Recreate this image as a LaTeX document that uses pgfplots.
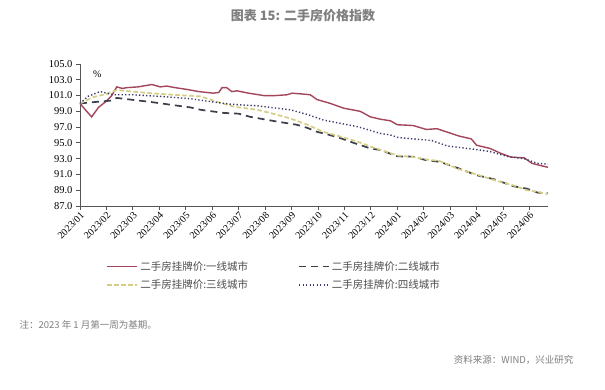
\documentclass[border=0pt]{standalone}
\usepackage{fontspec}
\setmainfont{Liberation Serif}
\newfontfamily\cjk{Noto Sans CJK SC}
\usepackage{pgfplots}
\pgfplotsset{compat=1.18}
\definecolor{cA}{HTML}{A3465C}
\definecolor{cB}{HTML}{3C3F4A}
\definecolor{cC}{HTML}{D6CD84}
\definecolor{cD}{HTML}{3A3A6A}
\definecolor{axc}{HTML}{555555}
\definecolor{txt}{HTML}{7F7F7F}
\pgfplotstableread{
x y
0 100.0
0.2 99.2
0.44 98.3
0.7 99.5
1.0 100.3
1.2 101.0
1.39 102.1
1.6 101.9
1.77 102.0
2.2 102.1
2.72 102.4
3.03 102.1
3.28 102.2
3.6 102.0
4.0 101.8
4.5 101.5
5.05 101.3
5.25 101.4
5.37 102.0
5.55 102.0
5.74 101.5
5.93 101.6
6.38 101.3
6.95 101.0
7.4 101.0
7.83 101.1
8.02 101.3
8.4 101.2
8.71 101.1
8.96 100.5
9.47 100.0
9.97 99.4
10.6 99.0
10.98 98.3
11.36 98.0
11.74 97.8
12.0 97.3
12.6 97.2
13.1 96.7
13.5 96.8
14.3 95.9
14.8 95.5
15.0 94.7
15.5 94.3
15.9 93.7
16.3 93.2
16.8 93.1
17.1 92.4
17.7 91.9
}\tierA
\pgfplotstableread{
x y
0 100.0
0.63 100.2
1.14 100.35
1.39 100.7
2.0 100.45
2.65 100.2
3.5 99.8
4.17 99.5
4.55 99.2
5.43 98.8
6.0 98.7
6.44 98.3
7.45 97.7
8.2 97.3
8.6 96.9
8.96 96.4
9.34 96.1
9.85 95.6
10.35 95.0
10.98 94.3
11.36 94.1
12.0 93.3
12.6 93.25
13.1 92.8
13.6 92.6
14.3 91.8
15.0 90.9
15.65 90.4
16.4 89.5
16.9 89.2
17.3 88.7
17.7 88.6
}\tierB
\pgfplotstableread{
x y
0 100.0
0.5 100.8
1.0 101.2
1.39 101.7
2.0 101.5
2.65 101.3
3.5 101.1
4.55 100.9
5.2 100.2
5.8 99.6
6.7 99.2
7.3 98.7
7.95 98.1
8.6 97.3
9.2 96.4
9.85 95.8
10.5 95.15
11.1 94.4
11.74 93.7
12.0 93.4
12.6 93.2
13.1 92.9
13.6 92.7
14.3 91.7
15.0 91.0
15.65 90.3
16.4 89.6
16.9 89.0
17.3 88.8
17.7 88.5
}\tierC
\pgfplotstableread{
x y
0 100.0
0.3 100.9
0.76 101.5
1.26 101.1
2.0 101.1
3.0 100.9
4.17 100.6
5.0 100.2
5.7 99.9
6.7 99.7
7.95 99.2
8.6 98.6
9.2 97.9
10.5 97.05
11.36 96.2
11.74 96.0
12.0 95.7
12.6 95.5
13.3 95.3
13.9 94.6
14.9 94.2
15.5 93.9
16.2 93.25
16.8 93.0
17.3 92.4
17.7 92.3
}\tierD
\begin{document}
\begin{tikzpicture}[x=1pt,y=1pt]
\useasboundingbox (0,0) rectangle (605,390);
\fill[white] (0,0) rectangle (605,390);
\node[text=txt] at (303,374) {\cjk\bfseries\fontsize{13}{15}\selectfont 图表 15: 二手房价格指数};
\begin{axis}[
  at={(80pt,184pt)}, anchor=south west,
  scale only axis, width=468pt, height=142pt,
  xmin=0, xmax=17.7, ymin=87, ymax=105,
  axis x line*=bottom, axis y line*=left,
  axis line style={axc, line width=0.8pt, -},
  tick style={axc, line width=0.8pt},
  tick align=outside, major tick length=4pt,
  xtick={0,...,17},
  xticklabels={2023/01,2023/02,2023/03,2023/04,2023/05,2023/06,2023/07,2023/08,2023/09,2023/10,2023/11,2023/12,2024/01,2024/02,2024/03,2024/04,2024/05,2024/06},
  xticklabel style={rotate=45, anchor=north east, font=\fontsize{10}{12}\selectfont, inner sep=1pt},
  ytick={87,89,...,105},
  yticklabel style={/pgf/number format/.cd, fixed, fixed zerofill, precision=1, /tikz/.cd, font=\fontsize{10.5}{12}\selectfont},
  /pgf/number format/assume math mode=true,
  legend style={at={(0.05,-0.36)}, anchor=north west, draw=none, fill=none,
    font=\cjk\fontsize{10.5}{12}\selectfont, text=black!70,
    /tikz/every even column/.append style={column sep=48pt}, row sep=4pt},
  legend columns=2, legend cell align=left,
  legend image code/.code={\draw[#1] (0pt,0pt) -- (30pt,0pt);},
  clip=false,
]
\addplot[cA, line width=1.4pt] table[x=x,y=y] {\tierA};
\addlegendentry{二手房挂牌价:一线城市}
\addplot[cB, line width=1.7pt, dash pattern=on 7pt off 5pt] table[x=x,y=y] {\tierB};
\addlegendentry{二手房挂牌价:二线城市}
\addplot[cC, line width=1.7pt, dash pattern=on 4.5pt off 2.5pt] table[x=x,y=y] {\tierC};
\addlegendentry{二手房挂牌价:三线城市}
\addplot[cD, line width=1.4pt, dash pattern=on 1.3pt off 2.2pt] table[x=x,y=y] {\tierD};
\addlegendentry{二手房挂牌价:四线城市}
\node[anchor=center, font=\fontsize{10}{12}\selectfont] at (rel axis cs:0.037,0.93) {\%};
\end{axis}
\node[anchor=west, text=txt] at (16,65) {\cjk\fontsize{9.5}{11}\selectfont 注：2023 年 1 月第一周为基期。};
\node[anchor=east, text=txt] at (577,30) {\cjk\fontsize{9.5}{11}\selectfont 资料来源：WIND，兴业研究};
\end{tikzpicture}
\end{document}
